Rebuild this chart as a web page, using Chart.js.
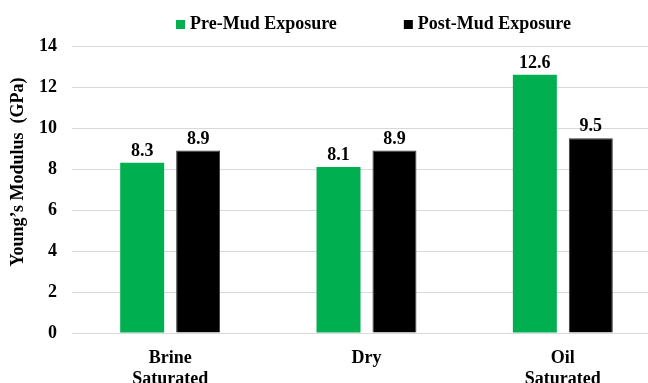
<!DOCTYPE html>
<html>
<head>
<meta charset="utf-8">
<script src="https://cdn.jsdelivr.net/npm/chart.js@4"></script>
<style>
  html, body { margin: 0; padding: 0; background: #fff; overflow: hidden; }
  /* the original plot runs a little past the right edge of the picture */
  #wrap { width: 661px; height: 383px; position: relative; }
</style>
</head>
<body>
<div id="wrap"><canvas id="chart"></canvas></div>
<script>
"use strict";

const CATEGORIES = [['Brine', 'Saturated'], 'Dry', ['Oil', 'Saturated']];
const PRE_MUD = [8.3, 8.1, 12.6];
const POST_MUD = [8.9, 8.9, 9.5];
const SERIES_NAMES = ['Pre-Mud Exposure', 'Post-Mud Exposure'];
const Y_TITLE = 'Young\u2019s Modulus  (GPa)';

const FONT = "'Liberation Serif', 'Times New Roman', serif";
const GREEN = '#00B050';
const BLACK = '#000000';
const GRID = '#D9D9D9';

// values above each bar
const barLabels = {
  id: 'barLabels',
  afterDatasetsDraw(chart) {
    const ctx = chart.ctx;
    ctx.save();
    ctx.font = 'bold 18px ' + FONT;
    ctx.fillStyle = '#000';
    ctx.textAlign = 'center';
    ctx.textBaseline = 'alphabetic';
    chart.data.datasets.forEach((ds, i) => {
      chart.getDatasetMeta(i).data.forEach((bar, j) => {
        ctx.fillText(ds.data[j].toFixed(1), bar.x, bar.y - 7);
      });
    });
    ctx.restore();
  }
};

// legend with the wide gap between entries, plus the y title placed as in the original
const extras = {
  id: 'extras',
  afterDraw(chart) {
    const ctx = chart.ctx;
    const box = 9, gap = 5, between = 67;
    ctx.save();
    ctx.font = 'bold 18px ' + FONT;
    ctx.textBaseline = 'alphabetic';
    ctx.textAlign = 'left';
    let x = 176;
    chart.data.datasets.forEach(ds => {
      const w = ctx.measureText(ds.label).width;
      ctx.fillStyle = ds.backgroundColor;
      ctx.fillRect(x, 20, box, box);
      ctx.fillStyle = '#000';
      ctx.fillText(ds.label, x + box + gap, 29);
      x += box + gap + w + between;
    });

    ctx.translate(18, 172);
    ctx.rotate(-Math.PI / 2);
    ctx.textAlign = 'center';
    ctx.textBaseline = 'middle';
    ctx.fillText(Y_TITLE, 0, 0);
    ctx.restore();
  }
};

const config = {
  type: 'bar',
  data: {
    labels: CATEGORIES,
    datasets: [{
      label: SERIES_NAMES[0],
      data: PRE_MUD,
      backgroundColor: GREEN,
      borderWidth: 0
    }, {
      label: SERIES_NAMES[1],
      data: POST_MUD,
      backgroundColor: BLACK,
      borderColor: '#3a3a3a',
      borderWidth: 1
    }]
  },
  options: {
    responsive: true,
    maintainAspectRatio: false,
    animation: false,
    datasets: {
      bar: { categoryPercentage: 0.57, barPercentage: 0.786 }
    },
    layout: { padding: { top: 46, right: 0, left: 0, bottom: 0 } },
    plugins: {
      legend: { display: false },
      tooltip: { enabled: false }
    },
    scales: {
      x: {
        grid: { display: false },
        border: { color: GRID, width: 1 },
        ticks: {
          color: '#000',
          font: { family: FONT, size: 18, weight: 'bold', lineHeight: 1.17 },
          padding: 7,
          maxRotation: 0
        },
        afterFit: (scale) => { scale.height = 50; }
      },
      y: {
        min: 0,
        max: 14,
        ticks: {
          stepSize: 2,
          color: '#000',
          font: { family: FONT, size: 18, weight: 'bold' },
          padding: 15
        },
        grid: { color: GRID, lineWidth: 1, drawTicks: false },
        border: { display: false },
        afterFit: (scale) => { scale.width = 72; }
      }
    }
  },
  plugins: [barLabels, extras]
};

new Chart(document.getElementById('chart'), config);
</script>
</body>
</html>
